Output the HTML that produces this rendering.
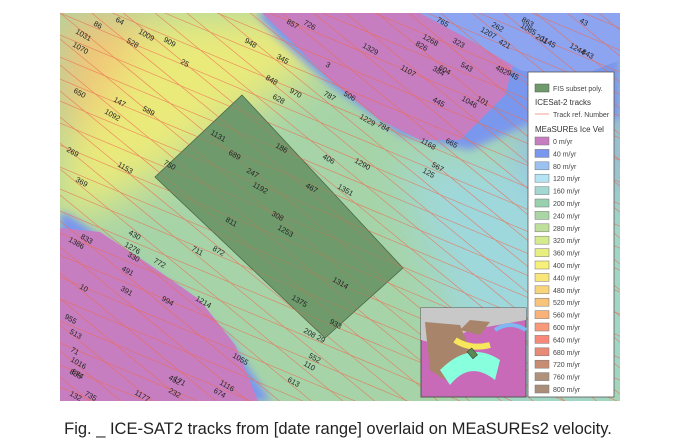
<!DOCTYPE html>
<html><head><meta charset="utf-8"><style>
body{margin:0;width:676px;height:447px;background:#fff;overflow:hidden;font-family:"Liberation Sans",sans-serif;position:relative}
svg{position:absolute;left:0;top:0}
.cap{position:absolute;left:0;width:676px;top:419px;height:20px;line-height:20px;text-align:center;font-size:16.5px;color:#222;white-space:nowrap}
</style></head><body>
<svg width="676" height="447" viewBox="0 0 676 447">
<defs>
<clipPath id="mc"><rect x="60" y="13" width="560" height="388"/></clipPath>
<filter id="bl" x="-30%" y="-30%" width="160%" height="160%"><feGaussianBlur stdDeviation="22"/></filter>
<filter id="bs" x="-30%" y="-30%" width="160%" height="160%"><feGaussianBlur stdDeviation="4"/></filter>
</defs>
<g clip-path="url(#mc)">
<rect x="60" y="13" width="560" height="388" fill="#a6d4a8"/>
<g filter="url(#bl)">
<path d="M60 13 H300 L330 60 L250 110 L170 170 L60 230Z" fill="#eaea7a"/>
<path d="M60 13 H150 L110 90 L60 150Z" fill="#f2c477"/>
<path d="M400 160 L620 150 L620 401 L480 401 L430 260Z" fill="#9fd8dc"/>
<path d="M500 13 L620 13 L620 200 L540 190Z" fill="#8fb0f0"/>
</g>
<g filter="url(#bs)">
<path d="M255 13 L620 13 L620 120 L560 110 L470 150 L400 135 L330 85 L280 40Z" fill="#7a97ee"/>
<path d="M60 212 L70 215 L120 250 L180 290 L230 340 L270 400 L280 401 L60 401Z" fill="#7a97ee"/>
</g>
<path d="M262 13 L500 13 L520 40 L505 95 L460 140 L420 140 L380 120 L330 80 L290 40Z" fill="#c77ec0"/>
<path d="M420 13 L620 13 L620 60 L570 80 L520 70 L470 40Z" fill="#8da4f0"/>
<path d="M60 228 L100 232 L150 265 L200 300 L235 345 L258 401 L60 401Z" fill="#c77ec0"/>
<g id="tracks" stroke="#f06a50" stroke-width="0.6" opacity="0.6"></g>
<polygon points="242,95 403,268 325,338 155,177" fill="#6e9a6c" stroke="#4a6a48" stroke-width="0.8"/>
<g id="tracks2" stroke="#f06a50" stroke-width="0.6" opacity="0.4"></g>
<g id="lbls" font-size="7.5" fill="#222"></g>
</g>
<g>
<rect x="421" y="308" width="105" height="89" fill="#c86ab8" stroke="#555"/>
<path d="M421 308 H526 V320 L470 330 L440 345 L421 340Z" fill="#c8c8c8"/>
<path d="M425 322 L460 325 L470 350 L445 380 L430 370Z" fill="#a8846a"/>
<path d="M440 370 Q470 340 500 360 L495 380 Q470 360 450 385Z" fill="#8fd"/>
<path d="M455 340 Q470 350 490 345" stroke="#f6e85a" stroke-width="6" fill="none"/>
<path d="M460 330 L470 320 L490 322 L480 335Z" fill="#a8846a"/>
<path d="M495 330 Q510 320 526 330" stroke="#7fb8f0" stroke-width="4" fill="none"/>
<rect x="469" y="349" width="6" height="9" fill="#5b8a55" stroke="#333" stroke-width="0.5" transform="rotate(-40 472 353)"/>
</g>
<g>
<rect x="528" y="72" width="86" height="325" fill="#fff" stroke="#555" stroke-width="0.8"/>
<rect x="535" y="84" width="14" height="8" fill="#6e9a6c" stroke="#555" stroke-width="0.5"/>
<text x="553" y="91" font-size="7" fill="#444">FIS subset poly.</text>
<text x="535" y="105" font-size="8" fill="#333">ICESat-2 tracks</text>
<line x1="535" y1="114" x2="549" y2="114" stroke="#f0a090"/>
<text x="553" y="117" font-size="7" fill="#444">Track ref. Number</text>
<text x="535" y="132" font-size="8" fill="#333">MEaSUREs Ice Vel</text>
<g id="leg"></g>
</g>
</svg>
<div class="cap">Fig. _ ICE-SAT2 tracks from [date range] overlaid on MEaSUREs2 velocity.</div>
<script>
const legendValues=[0,40,80,120,160,200,240,280,320,360,400,440,480,520,560,600,640,680,720,760,800];
const legendColors=["#c77ec0","#7a97ee","#9cc2f2","#b4e4f4","#a3d8d2","#98d0b0","#a9d6a4","#bfe09a","#d6ea8e","#e8ee80","#f6f07a","#f8e678","#f8d47a","#f8c47a","#f8b27a","#f89a7a","#f8887a","#e88a78","#c88c72","#b0927c","#aa8e7a"];
const trackLabels=["86","64","1031","1009","528","1070","909","948","25","345","848","970","628","147","650","1092","589","1131","186","689","406","1290","247","467","1192","1351","269","750","1153","369","811","308","1253","430","1314","872","711","1375","933","208","552","1055","1116","613","110","29","857","726","3","1329","787","506","1229","784","765","1268","826","1107","384","445","543","604","1046","1168","567","125","665","101","323","262","1207","482","421","945","863","1085","1145","201","1244","43","843","1386","833","1276","330","491","772","994","391","1214","452","232","674","1177","735","171","955","513","71","1016","574","10","132","836","665"];
const labelX=[93,115,75,138,126,72,163,244,180,276,265,289,272,113,73,104,142,210,275,228,322,354,246,305,252,337,66,163,117,75,225,271,277,128,332,212,191,291,329,303,308,232,219,287,303,316,286,303,325,362,323,343,359,377,436,422,415,400,432,432,460,438,461,420,431,422,445,476,452,491,480,495,498,506,521,520,540,535,569,579,581,68,80,124,127,121,153,161,120,195,168,168,213,134,84,173,64,69,70,70,71,79,69,69];
const labelY=[25,21,33,33,42,46,41,42,63,58,79,92,98,101,92,113,110,134,147,154,158,162,172,187,186,188,151,164,166,181,221,215,229,234,281,250,250,299,323,332,357,357,384,381,365,339,23,24,66,47,95,95,118,126,21,38,45,69,70,101,66,69,100,142,166,172,142,100,42,26,31,69,43,74,21,27,40,38,47,22,53,241,238,246,256,270,262,300,290,300,379,392,392,394,395,380,318,333,351,361,373,288,395,373];
const NS='http://www.w3.org/2000/svg';
const X0=60,X1=620,Y0=13,Y1=401;
const tg=document.getElementById('tracks'),tg2=document.getElementById('tracks2');
function trackLine(g,b,s){
 let xa=Math.max(X0,X0+(Y0-b)/s),xb=Math.min(X1,X0+(Y1-b)/s);
 if(xb<=xa)return;
 const l=document.createElementNS(NS,'line');
 l.setAttribute('x1',xa);l.setAttribute('y1',b+s*(xa-X0));l.setAttribute('x2',xb);l.setAttribute('y2',b+s*(xb-X0));
 
 
 g.appendChild(l);}
for(let i=-60;i<40;i++){
 [tg,tg2].forEach(g=>{trackLine(g,13+i*22,0.42);trackLine(g,13+i*26,0.82);});}
const lg=document.getElementById('lbls');
trackLabels.forEach((t,i)=>{if(labelX[i]===undefined)return;const e=document.createElementNS(NS,'text');e.setAttribute('x',labelX[i]);e.setAttribute('y',labelY[i]);e.setAttribute('transform','rotate(30 '+labelX[i]+' '+labelY[i]+')');e.textContent=t;


lg.appendChild(e);});
const leg=document.getElementById('leg');
legendValues.forEach((v,i)=>{const y=137+i*12.4;const r=document.createElementNS(NS,'rect');r.setAttribute('x',535);r.setAttribute('y',y);r.setAttribute('width',14);r.setAttribute('height',8);r.setAttribute('fill',legendColors[i]);r.setAttribute('stroke','#777');r.setAttribute('stroke-width','0.5');


leg.appendChild(r);const t=document.createElementNS(NS,'text');t.setAttribute('x',553);t.setAttribute('y',y+7);t.setAttribute('font-size','7');t.setAttribute('fill','#444');t.textContent=v+' m/yr';


leg.appendChild(t);});
</script>
</body></html>
